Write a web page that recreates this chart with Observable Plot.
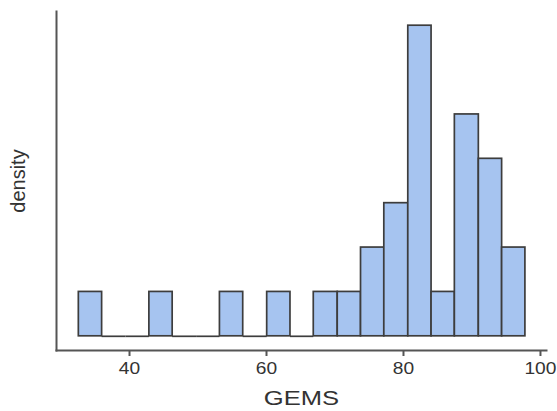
<!DOCTYPE html>
<html><head><meta charset="utf-8">
<script src="https://cdn.jsdelivr.net/npm/d3@7"></script>
<script src="https://cdn.jsdelivr.net/npm/@observablehq/plot@0.6"></script>
<style>body{margin:0;background:#fff}</style>
</head><body><div id="chart"></div>
<script>
// Histogram of GEMS scores (bin edges and counts)
const binEdges = [32.6, 36.0, 39.5, 42.9, 46.3, 49.8, 53.2, 56.6, 60.1, 63.5, 66.9, 70.4, 73.8, 77.2, 80.7, 84.1, 87.5, 91.0, 94.4, 97.8];
const counts   = [1, 0, 0, 1, 0, 0, 1, 0, 1, 0, 1, 1, 2, 3, 7, 1, 5, 4, 2];
const xTicks = [40, 60, 80, 100];
const xLabel = "GEMS";
const yLabel = "density";

const bins = counts.map((c, i) => ({x1: binEdges[i], x2: binEdges[i + 1], count: c}));

const chart = Plot.plot({
  width: 557, height: 411,
  marginLeft: 56, marginRight: 11, marginTop: 11, marginBottom: 61,
  style: {fontFamily: "'Liberation Sans', Arial, sans-serif", background: "white"},
  x: {domain: [29.34, 100.88]},
  y: {domain: [-0.32, 7.32], axis: null},
  marks: [
    Plot.rect(bins.filter(d => d.count > 0), {x1: "x1", x2: "x2", y1: 0, y2: "count", fill: "#a6c4f0", stroke: "#3d3d3d", strokeWidth: 1.7}),
    Plot.ruleY(bins.filter(d => d.count === 0), {x1: "x1", x2: "x2", y: 0, stroke: "#3d3d3d", strokeWidth: 1.7}),
    Plot.axisX({ticks: xTicks, tickSize: 6, tickPadding: 6, fontSize: 16, stroke: "#555", strokeWidth: 2, fill: "#333", label: null, className: "xticks"}),
    Plot.frame({anchor: "left", stroke: "#555", strokeWidth: 2}),
    Plot.frame({anchor: "bottom", stroke: "#555", strokeWidth: 2}),
    Plot.text([xLabel], {frameAnchor: "bottom", dy: 48, fontSize: 20, fill: "#333", textAnchor: "middle", lineAnchor: "middle", className: "xlab"}),
    Plot.text([yLabel], {frameAnchor: "left", dx: -38, rotate: -90, fontSize: 20, fill: "#333", textAnchor: "middle", lineAnchor: "middle"})
  ]
});
document.getElementById("chart").append(chart);

// Stretch horizontal texts to match the reference's wide lettering
function stretch(sel, s) {
  chart.querySelectorAll(sel).forEach(t => {
    const b = t.getBBox();
    const cx = b.x + b.width / 2;
    const tr = t.getAttribute("transform") || "";
    t.setAttribute("transform", `${tr} translate(${cx},0) scale(${s},1) translate(${-cx},0)`);
  });
}
stretch("g.xticks text", 1.2);
stretch("g.xlab text", 1.28);
</script>
</body></html>
